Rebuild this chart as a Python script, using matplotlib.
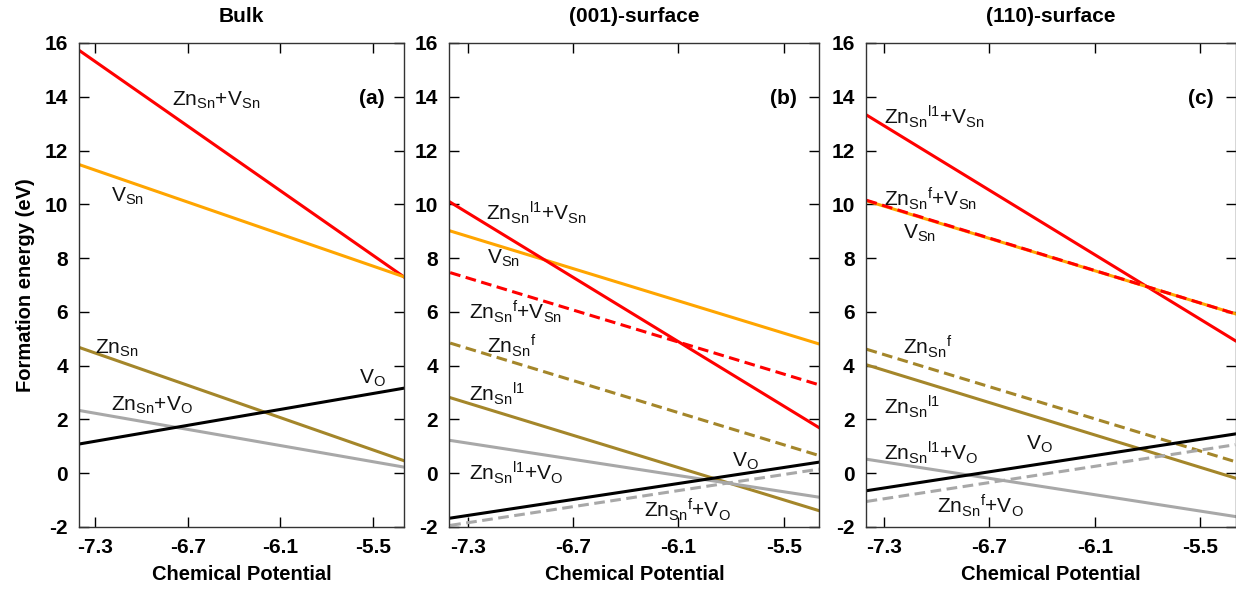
import numpy as np
import matplotlib
matplotlib.use("Agg")
import matplotlib.pyplot as plt

plt.rcParams['font.family'] = ['Liberation Sans', 'DejaVu Sans']
plt.rcParams['mathtext.fontset'] = 'custom'
plt.rcParams['mathtext.rm'] = 'Liberation Sans'
plt.rcParams['mathtext.it'] = 'Liberation Sans:italic'
plt.rcParams['mathtext.bf'] = 'Liberation Sans:bold'
plt.rcParams['axes.unicode_minus'] = False

# chemical potential range (end points of every line)
mu = [-7.4, -5.3]

# formation energies at the two end points
bulk_znsn_vsn = [15.71, 7.31]
bulk_vsn = [11.47, 7.31]
bulk_znsn = [4.67, 0.47]
bulk_vo = [1.09, 3.16]
bulk_znsn_vo = [2.33, 0.23]

s001_znl1_vsn = [10.08, 1.70]
s001_vsn = [9.01, 4.81]
s001_znf_vsn = [7.46, 3.29]
s001_znf = [4.84, 0.66]
s001_znl1 = [2.81, -1.39]
s001_znl1_vo = [1.22, -0.89]
s001_vo = [-1.67, 0.41]
s001_znf_vo = [-1.94, 0.15]

s110_znl1_vsn = [13.32, 4.93]
s110_vsn = [10.13, 5.93]
s110_znf_vsn = [10.15, 5.93]
s110_znf = [4.61, 0.43]
s110_znl1 = [4.03, -0.18]
s110_vo = [-0.65, 1.46]
s110_znf_vo = [-1.05, 1.06]
s110_znl1_vo = [0.52, -1.61]

titles = ['Bulk', '(001)-surface', '(110)-surface']
tags = ['(a)', '(b)', '(c)']
xticks = [-7.3, -6.7, -6.1, -5.5]
yticks = [-2, 0, 2, 4, 6, 8, 10, 12, 14, 16]

RED = '#ff0000'
ORANGE = '#ffa500'
OLIVE = '#a4862a'
GRAY = '#a8a8a8'
BLACK = '#000000'
DASH = (0, (3.5, 1.8))

ZN = r'Zn$_{\mathrm{Sn}}$'
ZNL1 = r'Zn$_{\mathrm{Sn}}$$^{\mathrm{l1}}$'
ZNF = r'Zn$_{\mathrm{Sn}}$$^{\mathrm{f}}$'
VSN = r'V$_{\mathrm{Sn}}$'
VO = r'V$_{\mathrm{O}}$'

fig = plt.figure(figsize=(12.36, 5.92), dpi=100)
bottom, height = 0.1098, 0.8176
ax_a = fig.add_axes([0.0639, bottom, 0.2630, height])
ax_b = fig.add_axes([0.3635, bottom, 0.2994, height])
ax_c = fig.add_axes([0.7004, bottom, 0.2994, height])
axes = [ax_a, ax_b, ax_c]

lw = 2.2

# (a) bulk
ax_a.plot(mu, bulk_znsn_vsn, color=RED, lw=lw)
ax_a.plot(mu, bulk_vsn, color=ORANGE, lw=lw)
ax_a.plot(mu, bulk_znsn, color=OLIVE, lw=lw)
ax_a.plot(mu, bulk_znsn_vo, color=GRAY, lw=lw)
ax_a.plot(mu, bulk_vo, color=BLACK, lw=lw)

# (b) (001) surface
ax_b.plot(mu, s001_vsn, color=ORANGE, lw=lw)
ax_b.plot(mu, s001_znl1_vsn, color=RED, lw=lw)
ax_b.plot(mu, s001_znf_vsn, color=RED, lw=lw, ls=DASH)
ax_b.plot(mu, s001_znf, color=OLIVE, lw=lw, ls=DASH)
ax_b.plot(mu, s001_znl1, color=OLIVE, lw=lw)
ax_b.plot(mu, s001_znl1_vo, color=GRAY, lw=lw)
ax_b.plot(mu, s001_znf_vo, color=GRAY, lw=lw, ls=DASH)
ax_b.plot(mu, s001_vo, color=BLACK, lw=lw)

# (c) (110) surface
ax_c.plot(mu, s110_znl1_vsn, color=RED, lw=lw)
ax_c.plot(mu, s110_vsn, color=ORANGE, lw=lw)
ax_c.plot(mu, s110_znf_vsn, color=RED, lw=lw, ls=DASH)
ax_c.plot(mu, s110_znf, color=OLIVE, lw=lw, ls=DASH)
ax_c.plot(mu, s110_znl1, color=OLIVE, lw=lw)
ax_c.plot(mu, s110_znl1_vo, color=GRAY, lw=lw)
ax_c.plot(mu, s110_znf_vo, color=GRAY, lw=lw, ls=DASH)
ax_c.plot(mu, s110_vo, color=BLACK, lw=lw)

fs = 15
lab = dict(fontsize=fs, color='#111111', va='center', ha='left')
ax_a.text(-6.80, 13.88, ZN + '+' + VSN, **lab)
ax_a.text(-7.196, 10.28, VSN, **lab)
ax_a.text(-7.30, 4.66, ZN, **lab)
ax_a.text(-7.20, 2.54, ZN + '+' + VO, **lab)
ax_a.text(-5.587, 3.54, VO, **lab)

ax_b.text(-7.194, 9.67, ZNL1 + '+' + VSN, **lab)
ax_b.text(-7.19, 8.0, VSN, **lab)
ax_b.text(-7.294, 6.01, ZNF + '+' + VSN, **lab)
ax_b.text(-7.19, 4.75, ZNF, **lab)
ax_b.text(-7.294, 2.95, ZNL1, **lab)
ax_b.text(-7.294, 0.0, ZNL1 + '+' + VO, **lab)
ax_b.text(-5.793, 0.43, VO, **lab)
ax_b.text(-6.293, -1.36, ZNF + '+' + VO, **lab)

ax_c.text(-7.30, 13.25, ZNL1 + '+' + VSN, **lab)
ax_c.text(-7.30, 10.22, ZNF + '+' + VSN, **lab)
ax_c.text(-7.195, 8.93, VSN, **lab)
ax_c.text(-7.195, 4.70, ZNF, **lab)
ax_c.text(-7.30, 2.47, ZNL1, **lab)
ax_c.text(-7.30, 0.75, ZNL1 + '+' + VO, **lab)
ax_c.text(-6.489, 1.09, VO, **lab)
ax_c.text(-6.997, -1.22, ZNF + '+' + VO, **lab)

for ax, title, tag in zip(axes, titles, tags):
    ax.set_xlim(-7.405, -5.297)
    ax.set_ylim(-2, 16)
    ax.set_xticks(xticks)
    ax.set_yticks(yticks)
    ax.set_xticklabels([str(t) for t in xticks])
    ax.tick_params(direction='in', length=7, width=1, top=True, right=True,
                   labelsize=15, pad=8)
    for lbl in ax.get_xticklabels() + ax.get_yticklabels():
        lbl.set_fontweight('bold')
    for sp in ax.spines.values():
        sp.set_linewidth(1)
        sp.set_color('#333333')
    ax.set_title(title, fontsize=15, fontweight='bold', pad=15)
    ax.set_xlabel('Chemical Potential', fontsize=14.5, fontweight='bold', labelpad=6)
    ax.text(0.94, 0.886, tag, transform=ax.transAxes, fontsize=15,
            fontweight='bold', ha='right', va='center')

ax_a.set_ylabel('Formation energy (eV)', fontsize=14.5, fontweight='bold', labelpad=7)

fig.savefig('out.png', dpi=100)
